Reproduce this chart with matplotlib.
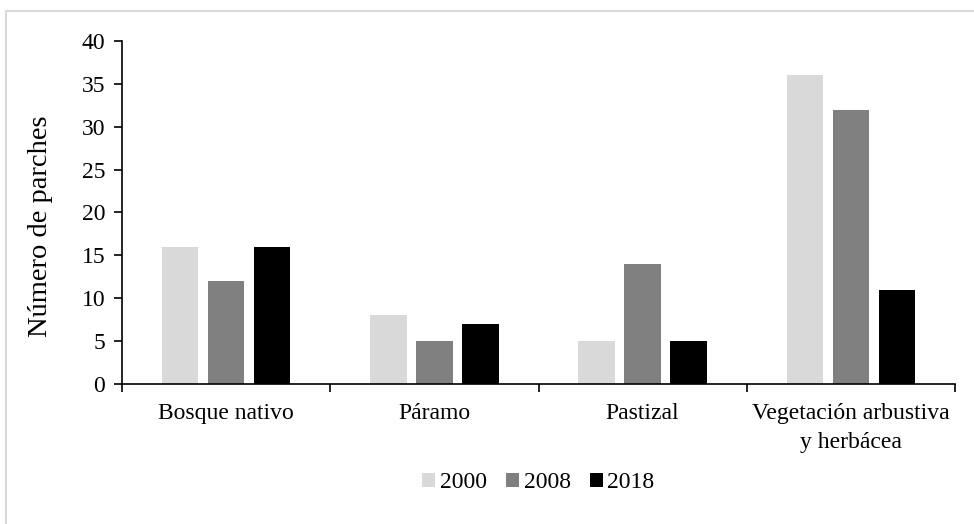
import numpy as np
import matplotlib.pyplot as plt
from matplotlib.lines import Line2D

# Data
categories = ["Bosque nativo", "Páramo", "Pastizal", "Vegetación arbustiva\ny herbácea"]
years = ["2000", "2008", "2018"]
v2000 = [16, 8, 5, 36]
v2008 = [12, 5, 14, 32]
v2018 = [16, 7, 5, 11]
colors = ["#D9D9D9", "#808080", "#000000"]

plt.rcParams['font.family'] = ['Liberation Serif', 'DejaVu Serif']
plt.rcParams['font.size'] = 17

fig = plt.figure(figsize=(9.74, 5.24), dpi=100)
ax = fig.add_axes([122 / 974, 1 - 384 / 524, (955 - 122) / 974, (384 - 41) / 524])

x = np.arange(len(categories))
width = 0.175
step = 0.221
for i, (vals, lab) in enumerate(zip([v2000, v2008, v2018], years)):
    ax.bar(x + (i - 1) * step, vals, width, color=colors[i], label=lab)

ax.set_xlim(-0.5, len(categories) - 0.5)
ax.set_ylim(0, 40)
ax.set_yticks(range(0, 41, 5))
ax.set_xticks(np.arange(-0.5, len(categories), 1))
ax.set_xticklabels([])
ax.set_xticks(x, minor=True)
ax.set_xticklabels(categories, minor=True)
ax.tick_params(axis='x', which='minor', length=0, pad=14)
ax.tick_params(axis='x', which='major', length=6, width=1.2, direction='out')
ax.tick_params(axis='y', length=6, width=1.2, direction='out', pad=6)
for t in ax.get_xticklabels(minor=True):
    t.set_linespacing(1.45)

ax.spines['top'].set_visible(False)
ax.spines['right'].set_visible(False)
ax.spines['left'].set_linewidth(1.2)
ax.spines['bottom'].set_linewidth(1.2)
ax.set_ylabel("Número de parches", fontsize=20.5)
ax.yaxis.set_label_coords(-0.083, 0.46)

ax.legend(loc='center', bbox_to_anchor=(0.5, -0.288), ncol=3, frameon=False,
          handlelength=0.55, handleheight=0.55, handletextpad=0.2, columnspacing=0.8)

# light grey frame around the chart
fig.add_artist(Line2D([6 / 974, 6 / 974], [0, 1 - 11 / 524], color="#D9D9D9", lw=1.5))
fig.add_artist(Line2D([6 / 974, 1], [1 - 11 / 524, 1 - 11 / 524], color="#D9D9D9", lw=1.5))

fig.savefig("out.png", dpi=100)
